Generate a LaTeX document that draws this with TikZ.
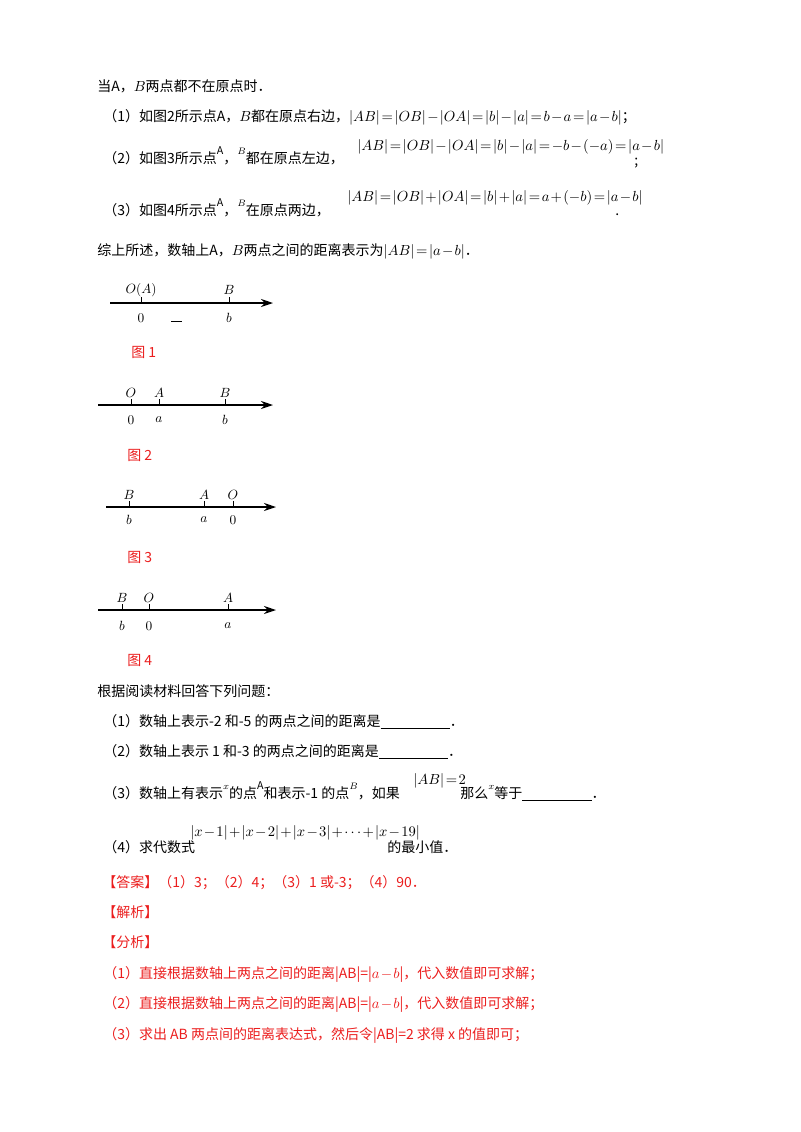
\documentclass[tikz,border=0pt]{standalone}
\usepackage{fontspec}
\setmainfont{Noto Sans CJK SC}
\usetikzlibrary{arrows.meta}
\definecolor{rd}{RGB}{235,30,30}
\newcommand{\tightm}{\medmuskip=1.5mu\thickmuskip=2mu}
\begin{document}
\begin{tikzpicture}[x=0.75pt,y=-0.75pt,
  t/.style={anchor=base west,inner sep=0pt,font=\fontsize{10.5}{12}\selectfont\tightm},
  r/.style={t,text=rd},
  ax/.style={line width=1pt,-{Stealth[length=9pt,width=6pt]}},
  tk/.style={line width=0.6pt},
  lb/.style={inner sep=0pt,font=\fontsize{10}{12}\selectfont}]
\useasboundingbox (0,0) rectangle (800,1132);
\node[t] (l1) at (97,91) {当A，$B$两点都不在原点时．};
\node[t] (l2) at (103,121) {（1）如图2所示点A，$B$都在原点右边，$|AB|=|OB|-|OA|=|b|-|a|=b-a=|a-b|$；};
\node[t] (l3) at (103,163) {（2）如图3所示点\raisebox{1.1ex}{\footnotesize A}，\raisebox{1.1ex}{$\scriptstyle B$}都在原点左边，};
\node[t] (l3f) at (357,150) {$|AB|=|OB|-|OA|=|b|-|a|=-b-(-a)=|a-b|$};
\node[t] (l3e) at (634,165) {;};
\node[t] (l4) at (103,215) {（3）如图4所示点\raisebox{1.1ex}{\footnotesize A}，\raisebox{1.1ex}{$\scriptstyle B$}在原点两边，};
\node[t] (l4f) at (347,201) {$|AB|=|OB|+|OA|=|b|+|a|=a+(-b)=|a-b|$};
\node[t] (l4e) at (615,215) {.};
\node[t] (l5) at (97,255) {综上所述，数轴上A，$B$两点之间的距离表示为$|AB|=|a-b|$．};
% fig1
\coordinate (s1) at (110,303); \coordinate (e1) at (273,303);
\draw[ax] (s1) -- (e1);
\foreach \x/\u/\d in {141/O(A)/0,229/B/b}{\draw[tk] (\x,303) -- (\x,297);
 \node[lb] at (\x,290) {$\u$}; \node[lb] at (\x,318) {$\d$};}
\draw[tk] (171,321) -- (182,321);
\node[r] (f1) at (131,357) {图 1};
% fig2
\coordinate (s2) at (98,405); \coordinate (e2) at (273,405);
\draw[ax] (s2) -- (e2);
\foreach \x/\u/\d in {131/O/0,159/A/a,225/B/b}{\draw[tk] (\x,405) -- (\x,399);
 \node[lb] at (\x,393) {$\u$}; \node[lb] at (\x,420) {$\d$};}
\node[r] (f2) at (127,460) {图 2};
% fig3
\coordinate (s3) at (106,507); \coordinate (e3) at (276,507);
\draw[ax] (s3) -- (e3);
\foreach \x/\u/\d in {129/B/b,204/A/a,233/O/0}{\draw[tk] (\x,507) -- (\x,501);
 \node[lb] at (\x,495) {$\u$}; \node[lb] at (\x,520) {$\d$};}
\node[r] (f3) at (127,562) {图 3};
% fig4
\coordinate (s4) at (98,610); \coordinate (e4) at (276,610);
\draw[ax] (s4) -- (e4);
\foreach \x/\u/\d in {122/B/b,149/O/0,228/A/a}{\draw[tk] (\x,610) -- (\x,604);
 \node[lb] at (\x,598) {$\u$}; \node[lb] at (\x,626) {$\d$};}
\node[r] (f4) at (127,665) {图 4};
% questions
\node[t] (q0) at (97,696) {根据阅读材料回答下列问题：};
\node[t] (q1) at (103,726) {（1）数轴上表示-2 和-5 的两点之间的距离是\underline{\hspace{52pt}}．};
\node[t] (q2) at (103,756) {（2）数轴上表示 1 和-3 的两点之间的距离是\underline{\hspace{52pt}}．};
\node[t] (q3) at (103,798) {（3）数轴上有表示\raisebox{1.1ex}{$\scriptstyle x$}的点\raisebox{1.1ex}{\footnotesize A}和表示-1 的点\raisebox{1.1ex}{$\scriptstyle B$}，如果};
\node[t] (q3f) at (413,784) {$|AB|=2$};
\node[t] (q3b) at (460,798) {那么\raisebox{1.1ex}{$\scriptstyle x$}等于\underline{\hspace{52pt}}．};
\node[t] (q4) at (103,852) {（4）求代数式};
\node[t] (q4f) at (190,836) {$|x-1|+|x-2|+|x-3|+\cdots+|x-19|$};
\node[t] (q4b) at (387,852) {的最小值．};
\node[r] (a0) at (102,887) {【答案】（1）3；（2）4；（3）1 或-3；（4）90．};
\node[r] (a1) at (102,917) {【解析】};
\node[r] (a2) at (102,947) {【分析】};
\node[r] (a3) at (103,978) {（1）直接根据数轴上两点之间的距离|AB|=|$a-b$|，代入数值即可求解；};
\node[r] (a4) at (103,1008) {（2）直接根据数轴上两点之间的距离|AB|=|$a-b$|，代入数值即可求解；};
\node[r] (a5) at (103,1039) {（3）求出 AB 两点间的距离表达式，然后令|AB|=2 求得 x 的值即可；};
\end{tikzpicture}
\end{document}
